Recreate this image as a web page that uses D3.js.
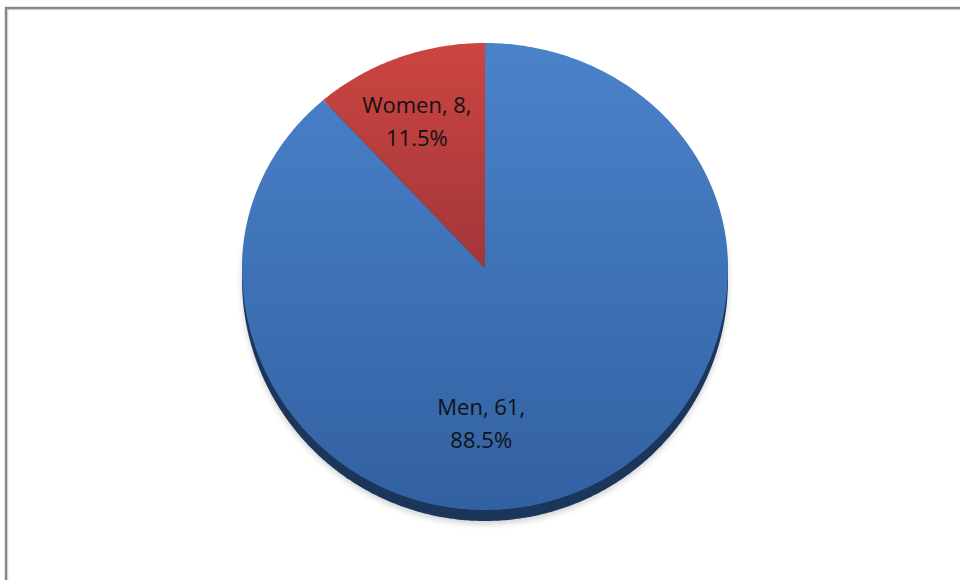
<!DOCTYPE html>
<html>
<head>
<meta charset="utf-8">
<script src="https://cdn.jsdelivr.net/npm/d3@7"></script>
<style>
html,body{margin:0;padding:0;background:#fff;}
svg{display:block;}
</style>
</head>
<body>
<svg id="chart" width="960" height="580"></svg>
<script>
const categories = ["Men", "Women"];
const values = [61, 8];
const percentLabels = ["88.5%", "11.5%"];

const svg = d3.select("#chart");
const W = 960, H = 580;

// chart border
svg.append("rect").attr("x", 6).attr("y", 8).attr("width", W + 20).attr("height", H + 20)
  .attr("fill", "#fff").attr("stroke", "#878787").attr("stroke-width", 2.4);
svg.append("rect").attr("x", 7.8).attr("y", 9.8).attr("width", W + 20).attr("height", H + 20)
  .attr("fill", "none").attr("stroke", "#c4c4c4").attr("stroke-width", 0.8);

const cx = 485, cy = 268, rx = 243, ryTop = 225, ryBot = 242, depth = 11;
function proj(a, r) {
  const x0 = r * Math.sin(a), y0 = -r * Math.cos(a);
  return [cx + rx * x0, cy + (y0 < 0 ? ryTop : ryBot) * y0];
}

const pie = d3.pie().sort(null).value(d => d)
  .startAngle(0).endAngle(2 * Math.PI);
const arcs = pie(values);

function slicePoints(d) {
  const pts = [];
  const n = Math.max(8, Math.ceil((d.endAngle - d.startAngle) / 0.01));
  for (let i = 0; i <= n; i++) {
    const a = d.startAngle + (d.endAngle - d.startAngle) * i / n;
    pts.push(proj(a, 1));
  }
  if (d.endAngle - d.startAngle < 2 * Math.PI - 1e-6) pts.push(proj(0, 0));
  return pts;
}
const line = d3.line().curve(d3.curveLinearClosed);

const defs = svg.append("defs");
const grads = [
  { id: "gBlue", top: "#4a82ca", bot: "#3261a2", y2: cy + ryBot },
  { id: "gRed", top: "#cc4541", bot: "#a2363a", y2: cy }
];
grads.forEach(g => {
  const lg = defs.append("linearGradient").attr("id", g.id)
    .attr("gradientUnits", "userSpaceOnUse")
    .attr("x1", 0).attr("y1", cy - ryTop).attr("x2", 0).attr("y2", g.y2);
  lg.append("stop").attr("offset", 0).attr("stop-color", g.top);
  lg.append("stop").attr("offset", 1).attr("stop-color", g.bot);
});
const blur = defs.append("filter").attr("id", "shadow").attr("x", "-20%").attr("y", "-20%").attr("width", "140%").attr("height", "140%");
blur.append("feGaussianBlur").attr("stdDeviation", 3);

const full = { startAngle: 0, endAngle: 2 * Math.PI };
const fullPts = slicePoints(full);

// soft shadow
svg.append("path").attr("d", line(fullPts.map(p => [p[0], p[1] + depth + 3])))
  .attr("fill", "#000").attr("opacity", 0.18).attr("filter", "url(#shadow)");
// side/depth
svg.append("path").attr("d", line(fullPts.map(p => [p[0], p[1] + depth])))
  .attr("fill", "#1b355b");

const fills = ["url(#gBlue)", "url(#gRed)"];
svg.selectAll("path.slice").data(arcs).enter().append("path")
  .attr("class", "slice")
  .attr("d", d => line(slicePoints(d)))
  .attr("fill", (d, i) => fills[i]);

// labels
const fontFam = "'Open Sans', Lato, sans-serif";
const labelPos = arcs.map((d, i) => {
  if (i === 1) return proj((d.startAngle + d.endAngle) / 2 - 0.03, 0.73);
  return proj(Math.PI * 1.008, 0.62);
});
arcs.forEach((d, i) => {
  const [x, y] = labelPos[i];
  const t = svg.append("text").attr("x", x).attr("y", y)
    .attr("text-anchor", "middle").attr("font-family", fontFam)
    .attr("font-size", 22).attr("fill", "#121212");
  t.append("tspan").attr("x", x).attr("dy", "-0.14em")
    .text(categories[i] + ", " + values[i] + ",");
  t.append("tspan").attr("x", x).attr("dy", "1.5em").text(percentLabels[i]);
});
</script>
</body>
</html>
